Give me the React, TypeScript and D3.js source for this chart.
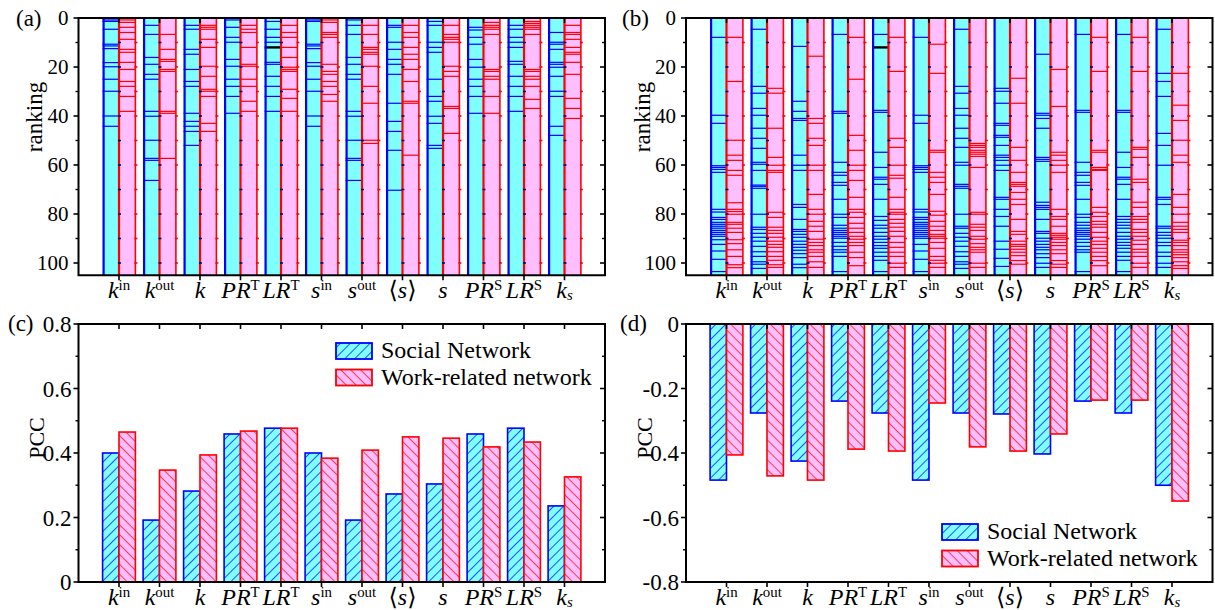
import React from "react";
import * as d3 from "d3";

const FONT = "'Liberation Serif', 'DejaVu Serif', 'Times New Roman', serif";

// ---------- categories / labels ----------
const categories = ["kin", "kout", "k", "PRT", "LRT", "sin", "sout", "<s>", "s", "PRS", "LRS", "ks"];
const labelPre = ["", "", "", "", "", "", "", "\u27E8", "", "", "", ""];
const labelBase = ["k", "k", "k", "PR", "LR", "s", "s", "s", "s", "PR", "LR", "k"];
const labelSup = ["in", "out", "", "T", "T", "in", "out", "", "", "S", "S", ""];
const labelSub = ["", "", "", "", "", "", "", "", "", "", "", "s"];
const labelPost = ["", "", "", "", "", "", "", "\u27E9", "", "", "", ""];

// ---------- panel (a): rankings, social network ----------
const socialRankA = [
  [0.8, 1.4, 4.6, 10.7, 11.4, 12.5, 18.2, 19.9, 25, 29.9, 40, 44.2],
  [3, 6.7, 16.1, 18.9, 23, 25, 38.1, 40.1, 49.9, 57.3, 58.1, 66.3],
  [3, 4.6, 12.8, 14.8, 21, 25.9, 27.9, 38.9, 42.2, 44.2, 46.3, 52],
  [0.8, 3.8, 7.9, 9.9, 16.9, 19.7, 25, 27.9, 32, 38.9],
  [1.4, 4.6, 7.9, 9.9, 18.1, 18.9, 23.8, 27.9, 32, 38.1],
  [0.8, 1.4, 10.7, 11.4, 12.5, 18.2, 19.7, 25, 29.9, 40, 44.2],
  [0.8, 3, 6.7, 16.1, 18.9, 23, 25, 38.1, 40.1, 49.9, 57.3, 58.1, 66.3],
  [3, 3.8, 9.9, 12.8, 16.9, 18.9, 23, 34.8, 42.2, 46.3, 54, 70.3],
  [1.4, 3, 9.9, 12, 14, 25, 32, 34, 40.1, 43, 52, 53.2],
  [3.8, 4.9, 7.9, 10.7, 16.9, 20.1, 25, 27.9, 32, 38.9],
  [3, 4.6, 7.9, 9.9, 12, 17.7, 18.9, 23.8, 27.9, 32, 38.1],
  [5.9, 9.9, 10.7, 12.8, 18.1, 18.9, 20.1, 23.8, 29.9, 32, 44.2, 47.9],
];
// panel (a): rankings, work-related network
const workRankA = [
  [0.8, 1.8, 3.8, 5.9, 8.7, 12.8, 14, 18.1, 21, 25.9, 27.9, 32, 38.1],
  [6.7, 12.8, 16.9, 17.7, 21, 21.8, 38.1, 38.9, 57.3],
  [3, 3.8, 4.6, 8.7, 12, 19.7, 23.8, 29.1, 29.9, 32, 43, 46.3],
  [3, 4.6, 5.9, 12, 18.9, 19.7, 25, 27.9, 34, 38.1],
  [3, 5.9, 7.9, 12, 16.1, 20.1, 21, 21.8, 29.1, 32.8, 38.1],
  [0.8, 1.8, 5.9, 6.7, 7.9, 18.9, 21.8, 23, 25.9, 27.9, 31.2, 34],
  [3, 6.7, 12, 12.8, 14, 14.8, 19.7, 27.9, 34.8, 49.9, 51.2],
  [3, 5.9, 7.9, 12, 14.8, 16.9, 21, 25.9, 34, 34.8, 56],
  [3, 6.7, 7.9, 8.7, 9.9, 19.7, 21.8, 23.8, 36.1, 36.9, 47.1],
  [1.8, 3, 3.8, 4.6, 6.7, 21, 21.8, 23.8, 25, 32, 38.9],
  [1.4, 2.2, 3, 3.8, 4.6, 6.7, 21, 21.8, 23.8, 25, 27.9, 33.2, 36.9],
  [3, 5.9, 6.7, 8.7, 12, 14, 14.8, 18.1, 23, 32.8, 36.9, 41],
];

// ---------- panel (b) ----------
const socialRankB = [
  [7.9, 39.7, 43, 60.3, 61, 61.8, 63, 78.1, 79.2, 81.4, 82.2, 83.4, 84.2, 85, 85.8, 86.7, 87.5, 88.3, 89.1, 90.5, 92.4, 95.1, 98.5, 103.5],
  [4.6, 27.9, 30.7, 36.9, 39.7, 45, 49.1, 53.2, 58.9, 59.7, 62.2, 68.2, 68.7, 69.5, 80.1, 85.4, 86.3, 87.9, 89.5, 91.1, 93.2, 95.4, 97.3, 99.5, 100.5, 102.2],
  [11.6, 34, 38.1, 41, 41.8, 56, 60.1, 62.2, 76.1, 77.3, 82.2, 86.3, 87.1, 88.3, 89.5, 91.1, 92.4, 93.6, 94.8, 96.2, 97.8, 100.5, 101.9],
  [6.7, 38.1, 38.9, 58.9, 63, 64.2, 67.1, 68.3, 74, 80.1, 81.4, 84.6, 85.8, 86.7, 87.5, 88.3, 89.1, 89.9, 91.6, 93.2, 94.6, 95.6, 97.3, 103.5],
  [6.7, 37.7, 38.5, 54.8, 61, 65, 65.8, 67.9, 74, 81, 82.6, 84.6, 85.8, 87.5, 89.1, 90.3, 91.6, 92.9, 94, 95.6, 97.3, 98.9, 103.5],
  [7.9, 39.7, 43, 60.3, 61, 61.8, 63, 78.1, 79.2, 81.4, 82.2, 83.4, 84.2, 85, 85.8, 86.7, 87.5, 88.3, 89.1, 89.9, 92.4, 95.1, 98.5, 103.5],
  [4.6, 27.9, 30.7, 36.9, 39.7, 45, 49.1, 52.8, 58.9, 60.1, 67.9, 68.7, 69.5, 80.1, 85, 85.8, 87.9, 89.5, 91.1, 93.2, 95.4, 97.3, 99.5, 100.5, 102.2],
  [28.7, 29.9, 34.8, 43, 43.8, 47.9, 48.7, 52, 56, 56.9, 58.1, 60.1, 62.2, 73.2, 74, 78.1, 81, 85, 91.1, 94.4, 98.1, 101.4],
  [14.8, 38.9, 39.7, 41, 45, 56.9, 57.7, 58.5, 75.2, 76.5, 77.3, 78.1, 82.2, 87.1, 87.9, 89.9, 91.1, 92.4, 93.6, 94.6, 96.2, 97.8, 100.1, 101.8],
  [6.7, 37.7, 38.5, 58.9, 63, 64.2, 67.1, 68.3, 74, 80.1, 81.4, 83.4, 84.6, 85.8, 86.7, 87.5, 88.3, 89.1, 90.3, 91.6, 93.2, 94.6, 95.6, 103.5],
  [6.7, 37.7, 38.5, 54.8, 61, 65, 65.8, 67.9, 74, 81, 82.2, 83.4, 84.6, 85.8, 87.5, 89.1, 90.3, 91.6, 92.8, 94, 95.6, 97.3, 98.9, 103.5],
  [4.6, 22.6, 25.9, 32, 47.1, 52, 60.1, 73.2, 74, 76.1, 85, 85.8, 87.5, 88.7, 89.9, 91.6, 92.9, 95.6, 97.3, 100.1, 101.8],
];
const workRankB = [
  [7.9, 25.9, 49.9, 56, 58.1, 62.2, 64.2, 75.4, 78.1, 79, 80.1, 83.4, 84.2, 85.8, 87.5, 90.5, 92.1, 94.6, 97.3, 100.7, 101.9],
  [28.7, 30.7, 45, 56.9, 60.1, 62.2, 63, 79.3, 81.4, 85.4, 86.7, 87.9, 89.5, 91.1, 92.4, 93.6, 95.4, 97.3, 98.9, 100.7, 101.8],
  [15.6, 41, 43, 49.1, 52, 60.1, 62.2, 72, 78.1, 80.1, 83, 85, 87.1, 90.3, 91.6, 92.9, 94.6, 95.6, 97.3, 99.5, 101.8],
  [7.9, 25, 47.9, 54, 60.1, 62.2, 66.3, 73.2, 78.1, 79.3, 81.4, 83.8, 85.8, 87.5, 89.1, 90.3, 91.6, 92.9, 95.6, 97.8, 101.1],
  [7.9, 21.8, 49.1, 52.8, 60.1, 64.2, 65.4, 73.2, 78.1, 79.3, 80.1, 82.2, 83.8, 85.4, 87.1, 89.1, 91.6, 93.6, 95.6, 97.3, 100.1, 101.8],
  [10.7, 22.6, 54, 54.8, 63, 65, 67.1, 72, 78.9, 80.5, 83, 85, 86.7, 88.3, 89.1, 89.9, 91.6, 94, 97.3, 98.9, 100.1, 101.8],
  [51.2, 52, 52.8, 54, 54.8, 55.6, 56.5, 61, 79.3, 80.1, 84.2, 85.4, 86.7, 89.1, 90.3, 92.1, 93.6, 94.6, 95.6, 100.1, 101.8],
  [24.6, 34.8, 52.8, 58.1, 63, 67.1, 67.9, 68.7, 71.2, 74, 76.1, 82.2, 87.1, 88.3, 91.1, 92.4, 93.2, 94.4, 95.6, 97, 99, 100.5],
  [21, 36.1, 54.8, 56, 58.1, 60.1, 63, 78.1, 81, 82.2, 85, 87.9, 88.7, 89.5, 90.3, 91.6, 92.9, 94.6, 96.2, 99, 100.5, 101.8],
  [7.9, 21.8, 54, 54.8, 61, 61.8, 62.2, 77.3, 79.3, 81, 83, 84.2, 85.4, 87.5, 89.5, 91.1, 92.4, 94, 95.6, 97.3, 99, 101.1],
  [7.9, 21.8, 52.8, 53.6, 56.9, 65.8, 67.1, 75.2, 77.3, 81, 82.2, 83.4, 86.3, 87.5, 89.1, 90.7, 92.4, 94.4, 95.6, 97.3, 100.1, 101.8],
  [22.6, 35.6, 41.8, 49.9, 56, 58.9, 72, 77.3, 80.1, 83.4, 85, 86.3, 87.5, 90.7, 91.6, 92.9, 94.6, 95.6, 96.6, 97.8, 99.5, 101.1, 102.2],
];
// highlighted node (black mark) in LR^T social bar
const highlightCategory = 4;
const highlightRank = 12;

const rankMajorTicks = [0, 20, 40, 60, 80, 100];
const rankMinorTicks = [10, 30, 50, 70, 90];
const rankMax = 105;

// ---------- panel (c) / (d): PCC ----------
const pccSocialC = [0.40, 0.192, 0.282, 0.459, 0.477, 0.40, 0.192, 0.273, 0.304, 0.459, 0.477, 0.236];
const pccWorkC = [0.465, 0.347, 0.394, 0.468, 0.477, 0.384, 0.409, 0.45, 0.446, 0.419, 0.434, 0.326];
const pccSocialD = [-0.484, -0.276, -0.425, -0.239, -0.276, -0.484, -0.276, -0.279, -0.403, -0.239, -0.276, -0.50];
const pccWorkD = [-0.406, -0.471, -0.484, -0.388, -0.394, -0.245, -0.381, -0.394, -0.341, -0.236, -0.236, -0.549];
const pccTicksC = [0, 0.2, 0.4, 0.6, 0.8];
const pccMinorC = [0.1, 0.3, 0.5, 0.7];
const pccTicksD = [-0.8, -0.6, -0.4, -0.2, 0];
const pccMinorD = [-0.7, -0.5, -0.3, -0.1];
const seriesNames = ["Social Network", "Work-related network"];

const CYAN = "#80FFFF";
const PINK = "#FFBFFF";
const BLUE = "#0000FF";
const RED = "#FF0000";

function XLabel({ i, x, y, size }: { i: number; x: number; y: number; size: number }) {
  const small = size * 0.62;
  return (
    <text x={x} y={y} textAnchor="middle" fontSize={size} fontFamily={FONT} fill="#000">
      {labelPre[i] ? <tspan>{labelPre[i]}</tspan> : null}
      <tspan fontStyle="italic">{labelBase[i]}</tspan>
      {labelSup[i] ? (
        <tspan fontSize={small} dy={-size * 0.33}>
          {labelSup[i]}
        </tspan>
      ) : null}
      {labelSub[i] ? (
        <tspan fontStyle="italic" fontSize={small} dy={size * 0.07}>
          {labelSub[i]}
        </tspan>
      ) : null}
      {labelPost[i] ? <tspan>{labelPost[i]}</tspan> : null}
    </text>
  );
}

function Frame({ left, right, top, bottom, x, y, yMajor, yMinor, yFmt, labelSize, labelGap }: any) {
  return (
    <g>
      <rect x={left} y={top} width={right - left} height={bottom - top} fill="none" stroke="#000" strokeWidth={2} />
      {yMajor.map((t: number) => (
        <g key={"M" + t}>
          <line x1={left - 5} x2={left} y1={y(t)} y2={y(t)} stroke="#000" strokeWidth={1.6} />
          <line x1={right} x2={right - 5} y1={y(t)} y2={y(t)} stroke="#000" strokeWidth={1.6} />
          <text
            x={left - labelGap}
            y={y(t)}
            dy="0.35em"
            textAnchor="end"
            fontSize={labelSize}
            fontFamily={FONT}
          >
            {yFmt(t)}
          </text>
        </g>
      ))}
      {yMinor.map((t: number) => (
        <g key={"m" + t}>
          <line x1={left - 3} x2={left} y1={y(t)} y2={y(t)} stroke="#000" strokeWidth={1.4} />
          <line x1={right} x2={right - 3} y1={y(t)} y2={y(t)} stroke="#000" strokeWidth={1.4} />
        </g>
      ))}
      {categories.map((c, i) => (
        <g key={"x" + c}>
          <line x1={x(i + 1)} x2={x(i + 1)} y1={bottom} y2={bottom + 5} stroke="#000" strokeWidth={1.6} />
          <line x1={x(i + 1)} x2={x(i + 1)} y1={top} y2={top + 5} stroke="#000" strokeWidth={1.6} />
        </g>
      ))}
    </g>
  );
}

function RankPanel({ left, right, social, work, tagX, tag, axisLabelX }: any) {
  const top = 18;
  const bottom = 275.25;
  const x = d3.scaleLinear().domain([0, 13]).range([left, right]);
  const y = d3.scaleLinear().domain([0, rankMax]).range([top, bottom]);
  const bw = x(0.405) - x(0);
  return (
    <g>
      {categories.map((c, i) => {
        const cx = x(i + 1);
        return (
          <g key={c}>
            <rect x={cx - bw} y={y(0)} width={bw} height={y(rankMax) - y(0)} fill={CYAN} />
            {social[i].map((r: number, j: number) => (
              <line key={j} x1={cx - bw} x2={cx} y1={y(r)} y2={y(r)} stroke={BLUE} strokeWidth={1.2} />
            ))}
            {i === highlightCategory ? (
              <line x1={cx - bw} x2={cx} y1={y(highlightRank)} y2={y(highlightRank)} stroke="#000" strokeWidth={2.4} />
            ) : null}
            <line x1={cx - bw + 1} x2={cx - bw + 1} y1={y(0)} y2={y(rankMax)} stroke={BLUE} strokeWidth={2.2} />
            <rect x={cx} y={y(0)} width={bw} height={y(rankMax) - y(0)} fill={PINK} />
            {work[i].map((r: number, j: number) => (
              <line key={j} x1={cx} x2={cx + bw} y1={y(r)} y2={y(r)} stroke={RED} strokeWidth={1.2} />
            ))}
            <line x1={cx} x2={cx} y1={y(0)} y2={y(rankMax)} stroke={RED} strokeWidth={2.2} />
            <line x1={cx + bw} x2={cx + bw} y1={y(0)} y2={y(rankMax)} stroke={RED} strokeWidth={1.6} />
            {rankMajorTicks.concat(rankMinorTicks).filter((t) => t > 0).map((t) => (
              <g key={"t" + t}>
                <line x1={cx - 1} x2={cx + 2} y1={y(t)} y2={y(t)} stroke="#000080" strokeWidth={1.6} />
                <line x1={cx + bw - 1} x2={cx + bw + 2} y1={y(t)} y2={y(t)} stroke={RED} strokeWidth={1.6} />
              </g>
            ))}
          </g>
        );
      })}
      <Frame
        left={left}
        right={right}
        top={top}
        bottom={bottom}
        x={x}
        y={y}
        yMajor={rankMajorTicks}
        yMinor={rankMinorTicks}
        yFmt={(t: number) => String(t)}
        labelSize={21}
        labelGap={10}
      />
      {categories.map((c, i) => (
        <XLabel key={c} i={i} x={x(i + 1)} y={298} size={24} />
      ))}
      <text x={tagX} y={26} fontSize={23} fontFamily={FONT}>
        {tag}
      </text>
      <text
        transform={`translate(${axisLabelX},117) rotate(-90)`}
        textAnchor="middle"
        fontSize={23}
        fontFamily={FONT}
      >
        ranking
      </text>
    </g>
  );
}

function PccPanel({ left, right, domain, social, work, major, minor, tagX, tag, axisLabelX, legendX, legendY }: any) {
  const top = 324;
  const bottom = 582;
  const x = d3.scaleLinear().domain([0, 13]).range([left, right]);
  const y = d3.scaleLinear().domain(domain).range([bottom, top]);
  const bw = x(0.405) - x(0);
  const fmt = (t: number) => (t === 0 ? "0" : d3.format(".1f")(t).replace("\u2212", "-"));
  return (
    <g>
      {categories.map((c, i) => {
        const cx = x(i + 1);
        const s = social[i];
        const w = work[i];
        return (
          <g key={c}>
            <rect
              x={cx - bw}
              y={Math.min(y(0), y(s))}
              width={bw}
              height={Math.abs(y(s) - y(0))}
              fill="url(#hatchBlue)"
              stroke={BLUE}
              strokeWidth={1.6}
            />
            <rect
              x={cx}
              y={Math.min(y(0), y(w))}
              width={bw}
              height={Math.abs(y(w) - y(0))}
              fill="url(#hatchRed)"
              stroke={RED}
              strokeWidth={1.6}
            />
          </g>
        );
      })}
      <Frame
        left={left}
        right={right}
        top={top}
        bottom={bottom}
        x={x}
        y={y}
        yMajor={major}
        yMinor={minor}
        yFmt={fmt}
        labelSize={23}
        labelGap={7}
      />
      {categories.map((c, i) => (
        <XLabel key={c} i={i} x={x(i + 1)} y={605} size={24} />
      ))}
      <text x={tagX} y={331} fontSize={23} fontFamily={FONT}>
        {tag}
      </text>
      <text
        transform={`translate(${axisLabelX},438) rotate(-90)`}
        textAnchor="middle"
        fontSize={22}
        fontFamily={FONT}
      >
        PCC
      </text>
      {seriesNames.map((n, k) => (
        <g key={n}>
          <rect
            x={legendX}
            y={legendY + k * 26.5}
            width={36}
            height={16}
            fill={k === 0 ? "url(#hatchBlue)" : "url(#hatchRed)"}
            stroke={k === 0 ? BLUE : RED}
            strokeWidth={1.8}
          />
          <text x={legendX + 45} y={legendY + 15 + k * 26.5} fontSize={24} fontFamily={FONT}>
            {n}
          </text>
        </g>
      ))}
    </g>
  );
}

export default function App() {
  return (
    <svg width={1215} height={610} style={{ display: "block", position: "absolute", left: 0, top: 0 }}>
      <defs>
        <pattern id="hatchBlue" patternUnits="userSpaceOnUse" width={7} height={7} patternTransform="rotate(45)">
          <rect width={7} height={7} fill={CYAN} />
          <line x1={0} y1={0} x2={0} y2={7} stroke={BLUE} strokeWidth={1.4} />
        </pattern>
        <pattern id="hatchRed" patternUnits="userSpaceOnUse" width={7} height={7} patternTransform="rotate(-45)">
          <rect width={7} height={7} fill={PINK} />
          <line x1={0} y1={0} x2={0} y2={7} stroke={RED} strokeWidth={1.4} />
        </pattern>
      </defs>
      <rect width={1215} height={610} fill="#fff" />
      <RankPanel left={78.5} right={605} social={socialRankA} work={workRankA} tagX={16} tag="(a)" axisLabelX={42} />
      <RankPanel left={686} right={1212.5} social={socialRankB} work={workRankB} tagX={622} tag="(b)" axisLabelX={650} />
      <PccPanel
        left={78.5}
        right={605}
        domain={[0, 0.8]}
        social={pccSocialC}
        work={pccWorkC}
        major={pccTicksC}
        minor={pccMinorC}
        tagX={8}
        tag="(c)"
        axisLabelX={44}
        legendX={336}
        legendY={343}
      />
      <PccPanel
        left={686}
        right={1212.5}
        domain={[-0.8, 0]}
        social={pccSocialD}
        work={pccWorkD}
        major={pccTicksD}
        minor={pccMinorD}
        tagX={620}
        tag="(d)"
        axisLabelX={652}
        legendX={942}
        legendY={524}
      />
    </svg>
  );
}
